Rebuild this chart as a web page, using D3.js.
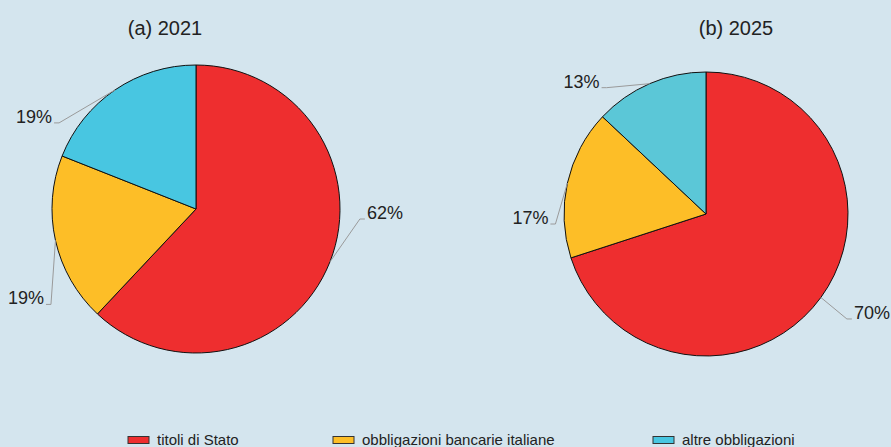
<!DOCTYPE html>
<html><head><meta charset="utf-8">
<script src="https://cdn.jsdelivr.net/npm/d3@7"></script>
<style>
html,body{margin:0;padding:0;background:#d4e5ee;}
svg{display:block;font-family:"Liberation Sans",Arial,Helvetica,sans-serif;}
</style></head>
<body>
<svg id="chart" width="891" height="447"></svg>
<script>
const categories = ["titoli di Stato", "obbligazioni bancarie italiane", "altre obbligazioni"];
const titles = ["(a) 2021", "(b) 2025"];
const values2021 = [62, 19, 19];
const values2025 = [70, 17, 13];
const valueLabels2021 = ["62%", "19%", "19%"];
const valueLabels2025 = ["70%", "17%", "13%"];

const colors2021 = ["#ee2e2f", "#fdbe27", "#48c6e1"];
const colors2025 = ["#ee2e2f", "#fdbe27", "#5bc7d7"];

const svg = d3.select("#chart");
svg.append("rect").attr("width", 891).attr("height", 447).attr("fill", "#d4e5ee");

// layout of each pie (positions kept here, not in data)
const pies = [
  { title: titles[0], values: values2021, labels: valueLabels2021, colors: colors2021,
    cx: 196, cy: 209, r: 144, titleX: 165,
    elbow: [[30, -43], [-4.5, 64], [-56, 33]] },
  { title: titles[1], values: values2025, labels: valueLabels2025, colors: colors2025,
    cx: 706, cy: 214, r: 142, titleX: 736,
    elbow: [[26, 21.5], [-12, 41], [-43, 4]] }
];

const pieGen = d3.pie().sort(null).value(d => d);

pies.forEach(p => {
  const g = svg.append("g").attr("transform", `translate(${p.cx},${p.cy})`);
  const arc = d3.arc().innerRadius(0).outerRadius(p.r);
  const edge = d3.arc().innerRadius(p.r).outerRadius(p.r);
  const arcs = pieGen(p.values);

  g.selectAll("path.slice").data(arcs).join("path")
    .attr("class", "slice")
    .attr("d", arc)
    .attr("fill", (d, i) => p.colors[i])
    .attr("stroke", "#111")
    .attr("stroke-width", 1)
    .attr("stroke-linejoin", "round");

  arcs.forEach((d, i) => {
    const [ex, ey] = edge.centroid(d);
    const bx = ex + p.elbow[i][0], by = ey + p.elbow[i][1];
    const right = bx > 0;
    const hx = bx + (right ? 5 : -5);
    g.append("polyline")
      .attr("points", `${ex},${ey} ${bx},${by} ${hx},${by}`)
      .attr("fill", "none")
      .attr("stroke", "#9a9a9a")
      .attr("stroke-width", 1);
    g.append("text")
      .attr("x", hx + (right ? 2 : -2))
      .attr("y", by)
      .attr("text-anchor", right ? "start" : "end")
      .attr("font-size", 18)
      .attr("fill", "#222")
      .text(p.labels[i]);
  });

  svg.append("text")
    .attr("x", p.titleX).attr("y", 35)
    .attr("text-anchor", "middle")
    .attr("font-size", 20)
    .attr("fill", "#222")
    .text(p.title);
});

// legend
const legendX = [128, 333, 653];
const lg = svg.append("g");
categories.forEach((c, i) => {
  lg.append("rect")
    .attr("x", legendX[i]).attr("y", 436.5)
    .attr("width", 21).attr("height", 7)
    .attr("fill", colors2021[i])
    .attr("stroke", "#333").attr("stroke-width", 1);
  lg.append("text")
    .attr("x", legendX[i] + 29).attr("y", 444.5)
    .attr("font-size", 15)
    .attr("fill", "#222")
    .text(c);
});
</script>
</body></html>
